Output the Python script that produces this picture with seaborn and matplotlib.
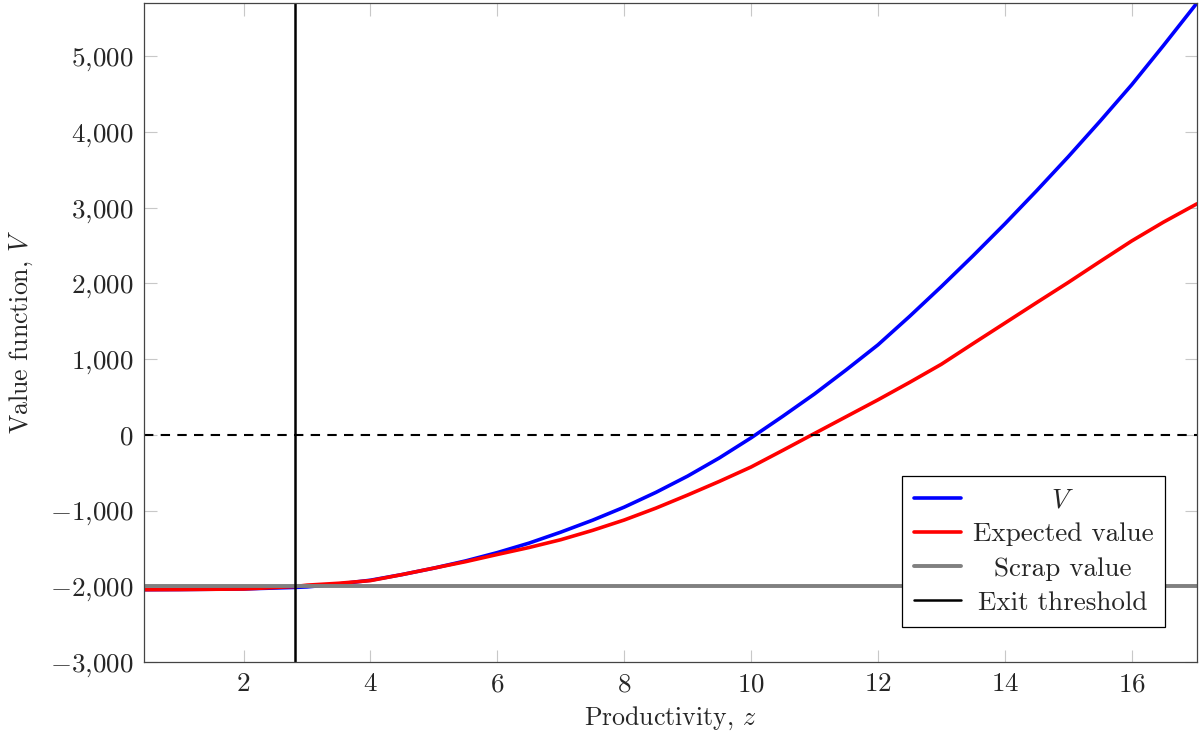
#!/usr/bin/env python3
# -*- coding: utf-8 -*-

import pandas as pd
import matplotlib as mpl
mpl.use('Agg')
import matplotlib.pyplot as plt
import numpy as np
import seaborn as sns

# productivity grid
z = [0.43, 1, 2, 2.81, 3, 3.5, 4, 4.5, 5, 5.5, 6, 6.5, 7, 7.5, 8, 8.5, 9, 9.5,
     10, 10.5, 11, 11.5, 12, 12.5, 13, 13.5, 14, 14.5, 15, 15.5, 16, 16.5, 17.03]
# value function V
v_value = [-2045, -2043, -2035, -2015, -2008, -1970, -1920, -1845, -1760, -1665,
           -1555, -1430, -1285, -1128, -955, -760, -545, -305, -40, 245, 540, 858,
           1188, 1565, 1958, 2365, 2785, 3222, 3672, 4140, 4622, 5140, 5703]
# expected value
v_expected = [-2045, -2043, -2036, -2003, -1985, -1960, -1925, -1845, -1760, -1675,
              -1580, -1488, -1385, -1262, -1125, -968, -795, -615, -425, -205, 18,
              240, 462, 693, 932, 1205, 1475, 1745, 2012, 2288, 2560, 2808, 3051]
scrap_value = -2000
exit_threshold = 2.81

xticks = [2, 4, 6, 8, 10, 12, 14, 16]
yticks = [-3000, -2000, -1000, 0, 1000, 2000, 3000, 4000, 5000]

df = pd.DataFrame({'z': z, 'V': v_value, 'Expected value': v_expected})

sns.set_style('ticks')
plt.rcParams['font.family'] = ['cmr10', 'DejaVu Serif']
plt.rcParams['mathtext.fontset'] = 'cm'
plt.rcParams['axes.unicode_minus'] = False
fs_tick = 19.5
fs_label = 18.6

fig = plt.figure(figsize=(12, 7.41), dpi=100)
ax = fig.add_axes([0.12, 0.1066, 0.8775, 0.8894])

sns.lineplot(data=df, x='z', y='V', color='#0000ff', lw=2.6, ax=ax, label='$V$')
sns.lineplot(data=df, x='z', y='Expected value', color='#ff0000', lw=2.6, ax=ax,
             label='Expected value')
ax.axhline(scrap_value, color='#808080', lw=2.8, label='Scrap value')
ax.axvline(exit_threshold, color='black', lw=1.8, label='Exit threshold')
ax.axhline(0, color='black', lw=1.5, ls=(0, (4.5, 3.5)))

ax.set_xlim(z[0], z[-1])
ax.set_ylim(yticks[0], v_value[-1])
ax.set_xticks(xticks)
ax.set_xticklabels(['$%d$' % t for t in xticks], fontsize=fs_tick)
ax.set_yticks(yticks)
ax.set_yticklabels([('$%s$' % format(t, ',')).replace(',', '{,}') for t in yticks],
                   fontsize=fs_tick)
ax.tick_params(direction='in', length=9, width=0.8, color='#c8c8c8',
               top=True, right=True, pad=7.5)
for s in ax.spines.values():
	s.set_color('#444444')
	s.set_linewidth(0.9)

ax.set_xlabel('Productivity, $z$', fontsize=fs_label, labelpad=6)
ax.set_ylabel('Value function, $V$', fontsize=fs_label, labelpad=11)

leg = ax.legend(loc='lower right', bbox_to_anchor=(0.97, 0.053), borderaxespad=0,
                fontsize=fs_tick, frameon=True, fancybox=False, framealpha=1,
                edgecolor='black', handlelength=1.74, handletextpad=0.42,
                borderpad=0.45, labelspacing=0.38)
leg.get_frame().set_linewidth(0.9)

# center the legend texts like pgfplots does
fig.canvas.draw()
r = fig.canvas.get_renderer()
widths = [t.get_window_extent(r).width for t in leg.get_texts()]
for t, w in zip(leg.get_texts(), widths):
	t.set_x((max(widths) - w) / 2)

fig.savefig('out.png', dpi=100)
